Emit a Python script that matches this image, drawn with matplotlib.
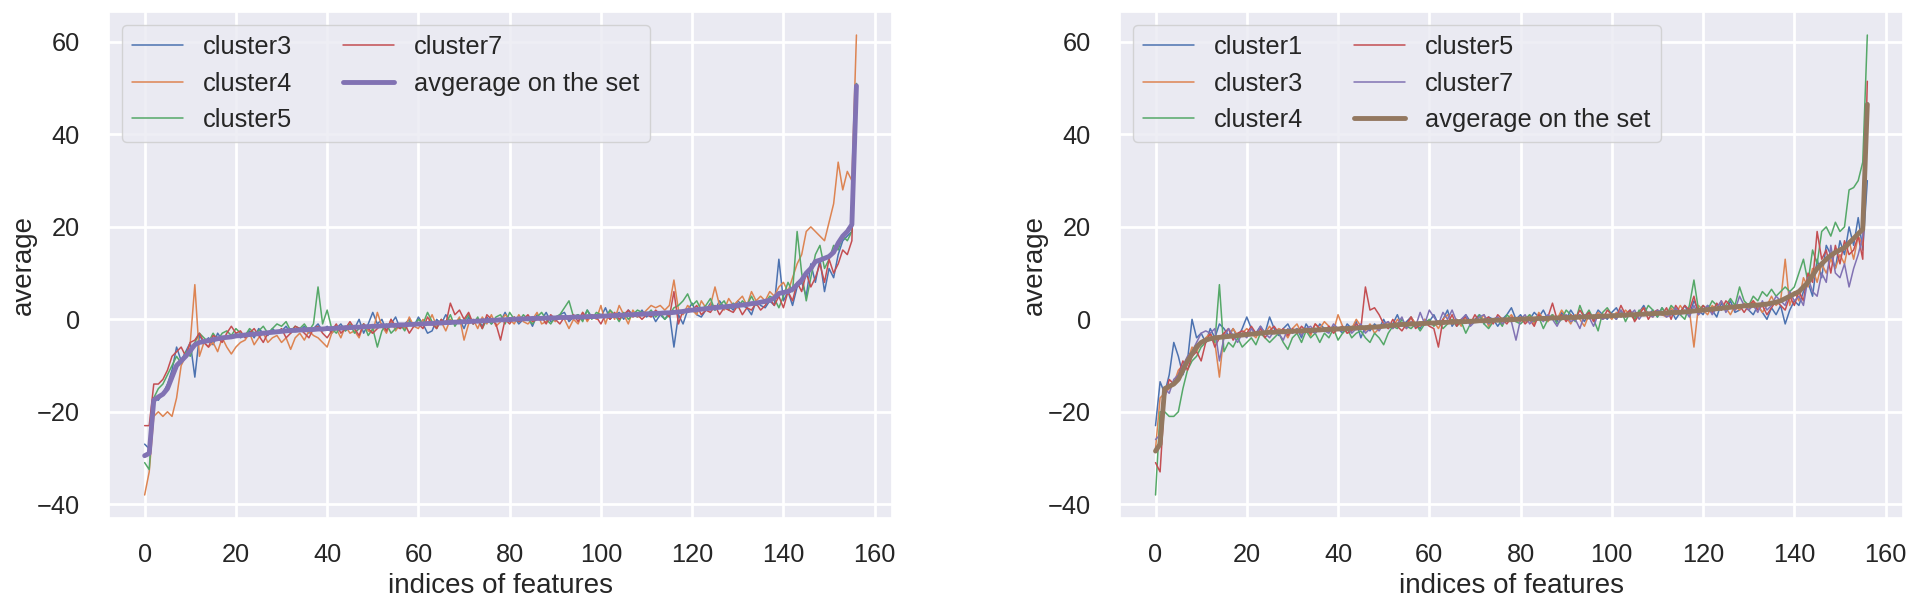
import matplotlib as mpl
mpl.use('Agg')
import matplotlib.pyplot as plt
import seaborn as sns

sns.set_theme()
plt.rcParams['font.family'] = ['Liberation Sans', 'DejaVu Sans']
plt.rcParams['grid.linewidth'] = 2

# ---- left panel ----
left_labels = ['cluster3', 'cluster4', 'cluster5', 'cluster7']
left_c3 = [
    -27, -28, -17, -17.5, -16, -14, -11, -6, -9, -7,
    -5, -12.5, -3.5, -5, -4, -5.5, -3, -4.5, -3.5, -4,
    -3, -4, -3.5, -2.5, -4, -2, -3, -3.5, -2, -3,
    -2.5, -1.5, -3, -2, -2.5, -1.5, -3, -2, -1, -2.5,
    -1.5, -3, -2, -1, -2.5, -1.5, -2, 0, -3, -1,
    1.5, -1, 0, -2.5, -1, 0.5, -2, -1, 0, -1.5,
    0.5, -1, -3, -2.5, 0, -1, 1, -0.5, -1, 0,
    -2, 0.5, -1, 0, -1.5, 0.5, -1, 0, -0.5, 1.5,
    -0.5, 0.5, -1, 0, 0.5, -1.5, 1, 0, 1.5, -0.5,
    0, 1, 1.5, -0.5, 0.5, 1, 0, 2, 0.5, 1,
    0.5, 2.5, 0, 1, 1.5, 0, 2, 1, 0.5, 2,
    0.5, 1.5, -0.5, 1, 0, 1.5, -6, 1, -1, 2,
    3.5, 1, 0.5, 2, 3.5, 2, 4, 2.5, 3, 2,
    4, 3, 2.5, 1, 4, 3, 2.5, 4, 3, 13,
    4, 6, 3, 7, 8, 5, 12, 8, 13, 6,
    11, 9, 14, 17, 18, 19, 51]
left_c4 = [
    -38, -33, -21, -20, -21, -20, -21, -17, -10, -8,
    -5, 7.5, -8, -5, -6, -5, -7, -4, -6, -7.5,
    -6, -5, -4.5, -3, -5.5, -4, -3, -5, -4, -3.5,
    -5, -4, -6.5, -4, -3, -4.5, -2.5, -3.5, -4, -5,
    -6, -3, -2, -4, -1.5, -3, -2.5, -4, -1, -2.5,
    -3, 1.5, -1.5, -3, 0, -2.5, -1, -2, 0.5, -1.5,
    -2, 0, -1, 1, -1.5, -0.5, -2.5, 0, -1, 0.5,
    -4.5, -1, 0, -2, 0.5, -1, 1, -1.5, -0.5, 1,
    0, -1, 1, -0.5, -1, 0, 1.5, -1, -0.5, 0.5,
    -0.5, 1, 0, -2, 0, -1, 1.5, -0.5, 1, 0,
    3, -1, 2, 0, 3, 1, -1, 2, 0.5, 1,
    2, 3, 2.5, 3, 2, 3, 8.5, 2, 1, 3,
    2, 1, 4, 2.5, 3, 7, 3, 2, 4.5, 3,
    4, 5, 3, 6, 4, 5, 4, 6, 5, 7,
    8, 6, 9, 12, 14, 19, 20, 19, 18, 17,
    21, 25, 34, 28, 32, 30, 61.5]
left_c5 = [
    -31, -32.5, -17, -15, -14, -12, -10, -8, -9.5, -7,
    -8, -5, -3, -4, -5, -3, -4.5, -3, -2.5, -3.5,
    -2, -3, -3.5, -2, -3, -2.5, -1.5, -3, -2, -1,
    -1.5, -0.5, -2.5, -1.5, -2, -1, -2.5, -1, 7, -1,
    2, -2, -3, -1.5, -2.5, -1, -3, -2, -1, -3.5,
    -2, -6, -2.5, -1, -3, -2, -1, -2.5, -0.5, -1.5,
    0, -1, 1.5, -0.5, -2, 0, -1, 1, -1.5, 0,
    -0.5, 1, -1, 0.5, -2, 0, -1, 0.5, 1, -1,
    1.5, 0, -0.5, 1, 0, -1, 0.5, 1.5, 0, -1,
    0.5, 1, 2.5, 4, 0.5, 1, -0.5, 2, 0, 1.5,
    1, 0.5, 2, 1, -0.5, 1.5, 0, 1, 2, 1.5,
    1, 2, 0.5, 1.5, 0, 1, 2.5, 3, 4, 5.5,
    3, 4, 2, 3, 4.5, 2, 3, 4, 2, 3.5,
    2.5, 4, 3, 5, 3, 4, 3.5, 5, 4.5, 2.5,
    5, 8, 6, 19, 10, 4, 9, 14, 16, 11,
    13, 16, 15, 18, 17, 19, 51]
left_c7 = [
    -23, -23, -14, -14, -13, -11, -8, -7, -6, -8,
    -5, -4.5, -3, -5, -6, -3.5, -4, -5, -3, -1.5,
    -3, -2.5, -4, -3, -2, -3.5, -5, -3, -2.5, -3,
    -2, -4, -3, -1.5, -2, -3, -4, -2, -1.5, -3,
    -4, -2.5, -1, -3, -2, -0.5, -2, -3.5, -1, -2,
    -3, -2, -1, -2.5, 0, -1.5, -2, -1, -3, -1.5,
    -1, -2, 0.5, -1, -2, 0, -1, 3.5, 1, 2,
    0, 1.5, -1, 0, -2, 1, 0, -1, -4.5, 0,
    -1, 0.5, -0.5, 0, 1, -0.5, 0, 0.5, -1, 1,
    0, -1, 0.5, 0, 1, -0.5, 1.5, 0, 1, 0.5,
    -1, 1, 0, 1.5, 0, 1, 2, 0.5, 1, 0,
    1, 0.5, 2, 1, 1.5, 0.5, 6, -1, 2, 1.5,
    2, 3, 1, 2, 1.5, 3, 1, 2.5, 2, 1.5,
    3, 1, 2.5, 2, 3.5, 2, 3, 4.5, 3, 5,
    2.5, 6, 4, 8, 6, 10, 7, 9, 12, 8,
    13, 10, 12, 15, 14, 17, 50]
left_avg = [
    -29.5, -29.0, -17.5, -16.8, -16.2, -15.0, -12.5, -10.0, -9.0, -8.0,
    -6.8, -5.5, -5.0, -4.8, -4.6, -4.4, -4.2, -4.0, -3.9, -3.8,
    -3.6, -3.5, -3.4, -3.3, -3.2, -3.1, -3.0, -2.9, -2.8, -2.7,
    -2.6, -2.5, -2.4, -2.4, -2.3, -2.3, -2.2, -2.2, -2.1, -2.1,
    -2.0, -2.0, -1.9, -1.9, -1.8, -1.8, -1.7, -1.7, -1.6, -1.6,
    -1.5, -1.5, -1.4, -1.4, -1.3, -1.3, -1.2, -1.2, -1.1, -1.1,
    -1.0, -1.0, -0.9, -0.9, -0.8, -0.8, -0.7, -0.7, -0.6, -0.6,
    -0.5, -0.5, -0.4, -0.4, -0.3, -0.3, -0.2, -0.2, -0.1, -0.1,
    0.0, 0.0, 0.1, 0.1, 0.1, 0.2, 0.2, 0.2, 0.3, 0.3,
    0.3, 0.4, 0.4, 0.4, 0.5, 0.5, 0.5, 0.6, 0.6, 0.6,
    0.7, 0.7, 0.8, 0.8, 0.9, 0.9, 1.0, 1.0, 1.1, 1.1,
    1.2, 1.2, 1.3, 1.3, 1.4, 1.4, 1.5, 1.6, 1.7, 1.9,
    2.0, 2.1, 2.2, 2.3, 2.4, 2.5, 2.6, 2.7, 2.8, 2.9,
    3.0, 3.1, 3.2, 3.4, 3.5, 3.7, 3.9, 4.1, 4.6, 5.6,
    5.8, 6.0, 6.5, 7.5, 8.5, 10.0, 11.0, 12.5, 12.8, 13.2,
    13.6, 14.5, 16.5, 18.0, 19.0, 20.5, 50.5]

# ---- right panel ----
right_labels = ['cluster1', 'cluster3', 'cluster4', 'cluster5', 'cluster7']
right_c1 = [
    -23, -13.5, -16, -12, -5, -8, -12, -9, 0, -4,
    -3, -5, -2, -4, -1, -2, -3.5, -2, -4, -2,
    0.5, -2, -3, -1.5, -3, 0.5, -2, -3.5, -2, -1,
    -3, -2, -4, -1, -2.5, -3, -1, -2, -2.5, -1.5,
    -2, -3, -1, -2, -0.5, -4, -1.5, -2.5, -1, -2,
    0, -2, -1, 1, -1.5, -0.5, 0.5, -1, -2, 0,
    -0.5, 1, -1, 0, 2, -1.5, 0, -1, 1, -0.5,
    0, 1, -1, 0.5, 0, -1.5, 0, 1, 2.5, 0,
    1, -0.5, 0, 1.5, 0.5, 2, 0, 1, -0.5, 1.5,
    0, 2, 0.5, 1, -0.5, 1.5, 0, 2, 1, 0,
    1.5, 2.5, 0.5, 1, 2, 0, 1.5, 3, 1, 2,
    0.5, 2.5, 1, 2, 0, 1.5, 3, 1, 4, 2,
    1, 3, 2, 0.5, 3.5, 2, 4, 1.5, 2, 3,
    2, 1, 3, 1.5, 0, 2.5, 1, 3, -1, 2,
    4, 3, 6, 8, 5, 13, 9, 16, 14, 11,
    17, 14, 20, 16, 22, 15, 30]
right_c3 = [
    -28, -17, -16, -15, -14, -11, -10, -9, -6, -7,
    -5, -4, -3, -5, -12.5, -3, -4, -2, -3.5, -3,
    -2, -3, -4, -2, -3, -1.5, -3, -2, -2.5, -4,
    -2, -1, -3, -2, -3.5, -1, -2, -0.5, -1.5, -2.5,
    1, -1.5, -3, -2, 0, -1.5, -2.5, -1, -3, -2,
    -1.5, -0.5, -2, 0, -1, -2, 0.5, -1, -1.5, 0,
    -1, -0.5, -2, 0, 1, -1, 0, -1.5, 0.5, -1,
    0, -0.5, 1, -1.5, 0, 0.5, -1, 0, 1, -0.5,
    0, -0.5, 1, -1, 1.5, 0, -0.5, 1, 0, 2,
    0.5, -1, 1, 0, -1.5, 1, 0, 1.5, 0.5, 1,
    0, 1.5, 0.5, 2, 1, 0, 1.5, 2.5, 1, 0.5,
    2, 1, 0.5, 2.5, 1, 3, 1.5, 2, -6, 3,
    2, 1, 3, 2, 4, 2.5, 1, 3, 2, 3.5,
    2, 4, 3, 1.5, 3, 5, 3, 4, 13, 3,
    6, 4, 9, 7, 11, 8, 12, 10, 13, 11,
    14, 12, 17, 13, 18, 16, 44]
right_c4 = [
    -38, -20, -20, -21, -21, -20, -15, -11, -9, -8,
    -6, -5, -4, -5, 7.5, -7, -5, -6, -4, -6,
    -5, -4, -5.5, -3, -4, -5, -4, -3, -5, -6.5,
    -4, -3, -5, -2.5, -4, -3, -5, -3, -4, -2,
    -4.5, -3, -2, -4, -3, -2.5, -4, -5, -3, -4,
    -5.5, -3, -1.5, -2, 0, -1.5, -2, -1, -2.5, -1,
    0, -1.5, -0.5, -2, -1, 0, -1.5, -0.5, -3, -1,
    -0.5, 1, -1, -2, -0.5, 0, -1.5, 1, 0, -0.5,
    -1, 0, 1, -0.5, 0.5, -2, 0, 1, -1, 0,
    2, 1, -0.5, 3, 0.5, 2, 0, -2.5, 1.5, 2.5,
    1, 0, 2, -0.5, 1.5, 0, 2, 1, 3, 2,
    0.5, 2.5, 1, 3, 2, 1, 0, 3, 8.5, 2,
    3, 2, 4, 3, 2, 3, 4.5, 3, 7, 4,
    3, 5, 4, 6, 5, 6.5, 5, 6, 7, 6,
    7, 10, 13, 8, 15, 12, 19, 20, 18, 21,
    19, 20, 28, 28.5, 30, 34, 61.5]
right_c5 = [
    -31, -33, -17, -13, -14, -12, -9, -11, -8, -7,
    -9, -5, -3, -6, -4, -3, -2, -4.5, -3, -2.5,
    -3, -1.5, -3, -2, -4, -2.5, -1.5, -3, -2, -3.5,
    -2, -3, -1.5, -2.5, -3, -1, -2, -2.5, -1.5, -3,
    -2, -1.5, -3, -2.5, -1, -2, 7, 2, 2.5, 1,
    -1, -2, 0, -1.5, -2.5, -1, 0.5, -2, -1, -0.5,
    -1.5, -2, -6, 0, -1, 1, -1.5, 0, 0.5, -1,
    1, -0.5, 0, 0.5, -1, 1, 0, -1, 0.5, 0,
    0.5, -1, 0, -1.5, 1, 0, 0.5, 3.5, 0, 1,
    -0.5, 1, 0, 2, 0.5, 1.5, -0.5, 1, 0, 2,
    1, 0.5, 3, 1, 2, -0.5, 1, 2.5, 0, 1.5,
    2, 1, 2.5, 0, 3, 1.5, 3, 2, 5, 1,
    3, 2, 1.5, 3.5, 2, 4, 3, 2, 3, 1.5,
    3, 4, 2, 3, 1, 2.5, 4, 3, 2, 5,
    3, 6, 4, 10, 8, 19, 13, 15, 10, 16,
    12, 17, 14, 15, 18, 13, 51.5]
right_c7 = [
    -26, -25, -15, -16, -13, -12, -10, -8, -7, -5,
    -3, -2.5, -3, -2, -9, -4, -2, -3.5, -5, -3,
    -4, -2, -3.5, -1.5, -3, -4, -2.5, -3, -4.5, -2,
    -3, -2, -3.5, -2, -1.5, -3, -2, -2.5, -3, -1,
    -2, -2.5, -1.5, -3, -2, -1, -3, -2, -1.5, -2.5,
    -1, -0.5, -2, -1, 0.5, -2, -0.5, -1.5, 1.5, -1,
    2, 0.5, -1, 1.5, 0, 2, -0.5, 0, 1, -1.5,
    -0.5, 0.5, 1, -1, 0, 0.5, -1, 0, -0.5, -4.5,
    0, 1, -1, 0, 0.5, -0.5, 1, 0, -1.5, 0.5,
    1, -0.5, 0, -2, 1, 0.5, -1.5, 1, 0, 0.5,
    1, 0, 2, 0.5, 1, 2, 0, 1.5, 1, 0.5,
    2, 1.5, 0.5, 1, 2.5, 1, 2, 0.5, 3, 1,
    2, 3, 1, 2.5, 4, 1.5, 3, 2, 5, 3,
    2, 3, 1.5, 4, 2, 3, 5, 4, 3, 6,
    4, 5, 3, 9, 6, 5, 10, 8, 16, 10,
    9, 12, 7, 11, 14, 18, 46]
right_avg = [
    -28.5, -27, -15, -14.5, -14, -13, -11, -9, -7.5, -6,
    -5, -4.5, -4.2, -4, -3.9, -3.8, -3.7, -3.6, -3.5, -3.4,
    -3.3, -3.2, -3.1, -3.0, -2.9, -2.8, -2.8, -2.7, -2.7, -2.6,
    -2.6, -2.5, -2.5, -2.4, -2.4, -2.3, -2.3, -2.2, -2.2, -2.1,
    -2.1, -2.0, -2.0, -1.9, -1.9, -1.8, -1.8, -1.7, -1.7, -1.6,
    -1.5, -1.4, -1.3, -1.2, -1.1, -1.1, -1.0, -1.0, -0.9, -0.9,
    -0.8, -0.8, -0.7, -0.7, -0.6, -0.6, -0.5, -0.5, -0.5, -0.4,
    -0.4, -0.3, -0.3, -0.3, -0.2, -0.2, -0.1, -0.1, -0.1, 0.0,
    0.0, 0.1, 0.1, 0.1, 0.2, 0.2, 0.2, 0.3, 0.3, 0.3,
    0.4, 0.4, 0.4, 0.5, 0.5, 0.5, 0.6, 0.6, 0.7, 0.7,
    0.8, 0.8, 0.9, 0.9, 1.0, 1.0, 1.1, 1.1, 1.2, 1.2,
    1.3, 1.3, 1.4, 1.4, 1.5, 1.5, 1.6, 1.7, 1.8, 1.9,
    2.0, 2.1, 2.2, 2.3, 2.4, 2.5, 2.6, 2.7, 2.8, 2.9,
    3.0, 3.0, 3.1, 3.2, 3.3, 3.5, 3.7, 4.0, 4.5, 5.0,
    5.5, 6.0, 7.0, 8.0, 9.5, 11.0, 12.0, 13.0, 13.8, 14.5,
    15.0, 15.5, 16.5, 17.5, 18.5, 19.5, 46.5]

avg_label = 'avgerage on the set'
TICK_FS = 18.3
LABEL_FS = 20

fig = plt.figure(figsize=(19.2, 6.04), dpi=100)
ax1 = fig.add_axes([0.0568, 0.1424, 0.4078, 0.8377])
ax2 = fig.add_axes([0.5833, 0.1424, 0.4078, 0.8377])

for ax, series, labels, avg in [
        (ax1, [left_c3, left_c4, left_c5, left_c7], left_labels, left_avg),
        (ax2, [right_c1, right_c3, right_c4, right_c5, right_c7], right_labels, right_avg)]:
    for s, lab in zip(series, labels):
        ax.plot(range(len(s)), s, lw=1.1, label=lab)
    ax.plot(range(len(avg)), avg, lw=3.5, label=avg_label)
    ax.set_xlabel('indices of features', fontsize=LABEL_FS, labelpad=4)
    ax.set_ylabel('average', fontsize=LABEL_FS, labelpad=0)
    ax.tick_params(axis='x', labelsize=TICK_FS, pad=12)
    ax.tick_params(axis='y', labelsize=TICK_FS, pad=15)
    ax.legend(loc='upper left', ncol=2, fontsize=TICK_FS, labelspacing=0.5)

fig.savefig('out.png', dpi=100)
